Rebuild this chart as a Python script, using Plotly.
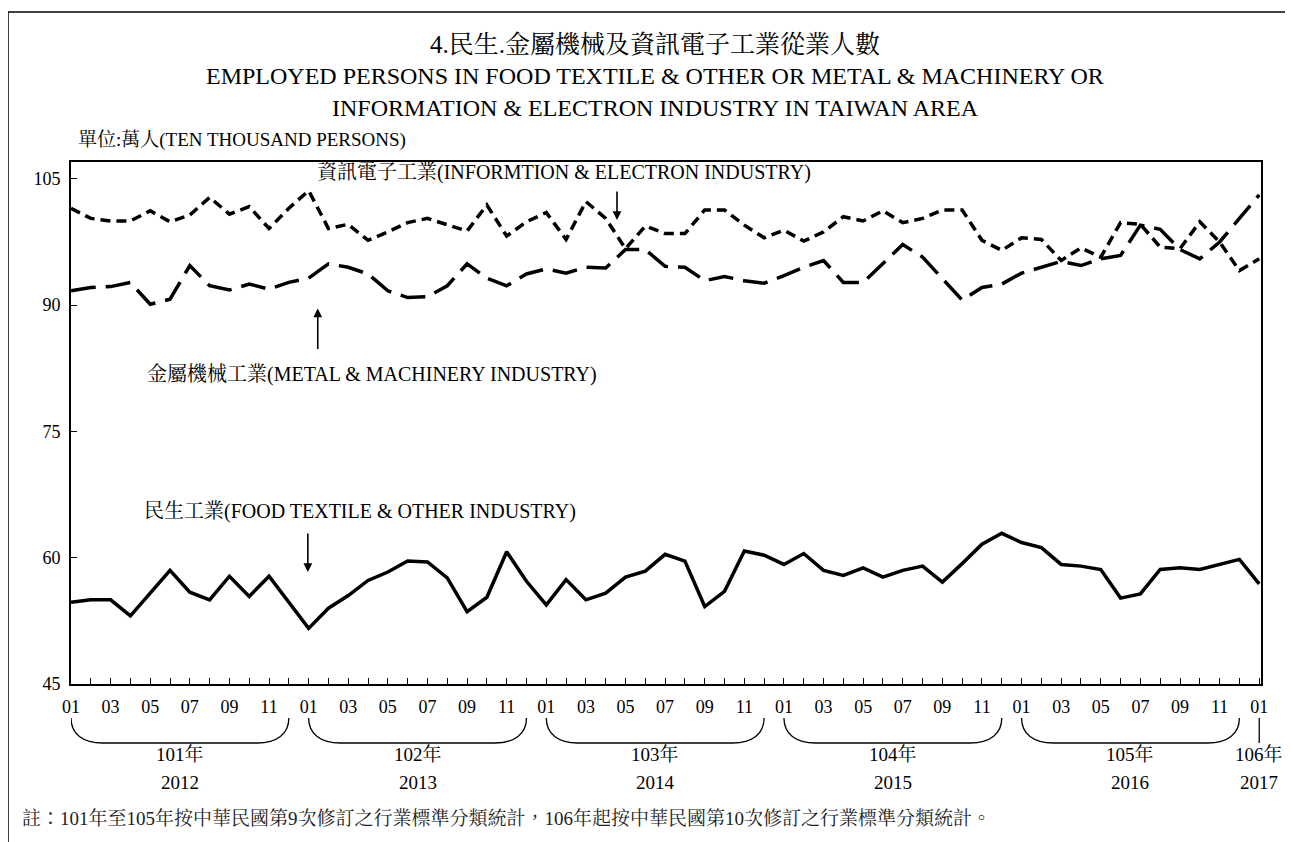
import plotly.graph_objects as go

# ---------------- data ----------------
month_labels = ["01", "02", "03", "04", "05", "06", "07", "08", "09", "10", "11", "12"]
roc_years = ["101年", "102年", "103年", "104年", "105年", "106年"]
ad_years = ["2012", "2013", "2014", "2015", "2016", "2017"]

food = [54.7, 55.0, 55.0, 53.1, 55.8, 58.5, 55.9, 55.0, 57.8, 55.4,
        57.8, 54.7, 51.6, 54.0, 55.5, 57.3, 58.3, 59.6, 59.5, 57.6,
        53.6, 55.3, 60.7, 57.2, 54.4, 57.4, 55.0, 55.8, 57.7, 58.4,
        60.4, 59.6, 54.2, 56.0, 60.8, 60.3, 59.2, 60.5, 58.5, 57.9,
        58.8, 57.7, 58.5, 59.0, 57.1, 59.3, 61.6, 62.9, 61.8, 61.2,
        59.2, 59.0, 58.6, 55.2, 55.7, 58.6, 58.8, 58.6, 59.2, 59.8,
        56.9]
metal = [91.7, 92.1, 92.2, 92.7, 90.1, 90.7, 94.7, 92.3, 91.8, 92.5,
         91.9, 92.7, 93.2, 94.9, 94.5, 93.7, 91.7, 90.9, 91.0, 92.3,
         94.9, 93.2, 92.3, 93.7, 94.3, 93.8, 94.5, 94.4, 96.6, 96.6,
         94.6, 94.5, 92.9, 93.4, 92.9, 92.6, 93.5, 94.5, 95.3, 92.7,
         92.7, 94.9, 97.2, 95.7, 93.1, 90.6, 92.1, 92.5, 93.8, 94.5,
         95.2, 94.7, 95.5, 95.9, 99.5, 99.0, 96.6, 95.5, 97.5, 100.3,
         103.1]
info = [101.5, 100.3, 100.0, 100.0, 101.2, 99.9, 100.7, 102.8, 100.8, 101.7,
        99.1, 101.5, 103.6, 99.1, 99.6, 97.7, 98.7, 99.8, 100.3, 99.6,
        98.8, 101.9, 98.2, 99.9, 101.0, 97.8, 102.3, 100.3, 96.7, 99.4,
        98.5, 98.5, 101.3, 101.3, 99.5, 98.0, 98.9, 97.6, 98.7, 100.5,
        100.0, 101.2, 99.8, 100.3, 101.3, 101.3, 97.7, 96.5, 98.0, 97.8,
        95.3, 96.8, 95.7, 99.8, 99.6, 96.9, 96.7, 99.9, 97.5, 94.1,
        95.5]
y_ticks = [45, 60, 75, 90, 105]

series_names = ["民生工業(FOOD TEXTILE & OTHER INDUSTRY)",
                "金屬機械工業(METAL & MACHINERY INDUSTRY)",
                "資訊電子工業(INFORMTION & ELECTRON INDUSTRY)"]
title_lines = ["4.民生.金屬機械及資訊電子工業從業人數",
               "EMPLOYED PERSONS IN FOOD TEXTILE & OTHER OR METAL & MACHINERY OR",
               "INFORMATION & ELECTRON INDUSTRY IN TAIWAN AREA"]
unit_label = "單位:萬人(TEN THOUSAND PERSONS)"
footnote = "註：101年至105年按中華民國第9次修訂之行業標準分類統計，106年起按中華民國第10次修訂之行業標準分類統計。"

# ---------------- layout geometry ----------------
OFF = 8                      # page body margin
W, H = 1293 - OFF, 842 - OFF
ML, MR, MT, MB = 71 - OFF, 32, 162 - OFF, 158
PLOT_H = H - MT - MB
PLOT_W = W - ML - MR


def py(pix):
    """page pixel row -> paper y"""
    return (H - MB - (pix - OFF)) / PLOT_H


def px(pix):
    """page pixel column -> paper x"""
    return ((pix - OFF) - ML) / PLOT_W


FONT = "Liberation Serif, Noto Serif CJK TC, Noto Sans CJK TC, serif"

n = len(food)
x = list(range(n))
tick_text = [month_labels[i % 12] if (i % 12) % 2 == 0 else "" for i in x]

fig = go.Figure()
fig.add_trace(go.Scatter(x=x, y=food, mode="lines", name=series_names[0],
                         line=dict(color="black", width=3.5)))
fig.add_trace(go.Scatter(x=x, y=metal, mode="lines", name=series_names[1],
                         line=dict(color="black", width=3.5, dash="25px,10px")))
fig.add_trace(go.Scatter(x=x, y=info, mode="lines", name=series_names[2],
                         line=dict(color="black", width=3.5, dash="10px,6px")))

annotations = []
# titles
title_sizes = [25, 24, 24]
for k, t in enumerate(title_lines):
    annotations.append(dict(text=t, xref="paper", yref="paper", x=px(655), y=py(44 + 32 * k),
                            showarrow=False, xanchor="center", yanchor="middle",
                            font=dict(size=title_sizes[k], family=FONT, color="black")))
annotations.append(dict(text=unit_label, xref="paper", yref="paper", x=px(76), y=py(140),
                        showarrow=False, xanchor="left", yanchor="middle",
                        font=dict(size=19, family=FONT, color="black")))
annotations.append(dict(text=footnote, xref="paper", yref="paper", x=px(20), y=py(818),
                        showarrow=False, xanchor="left", yanchor="middle",
                        font=dict(size=19, family=FONT, color="#222")))

# series labels with arrows
label_pos = [(14.6, 65.5), (15.2, 81.8), (24.9, 105.7)]
for name, (lx, ly) in zip(series_names, label_pos):
    annotations.append(dict(text=name, x=lx, y=ly, xref="x", yref="y", showarrow=False,
                            font=dict(size=20, family=FONT, color="black")))
arrows = [(11.96, 58.3, -40), (12.46, 89.6, 42), (27.57, 100.1, -30)]
for ax_, ay_, off in arrows:
    annotations.append(dict(text="", x=ax_, y=ay_, xref="x", yref="y", showarrow=True,
                            ax=0, ay=off, arrowhead=2, arrowsize=1.1, arrowwidth=1.6,
                            arrowcolor="black"))

# year braces and labels
shapes = []
ya, yb, yc = py(718), py(734), py(743)
for k in range(len(roc_years)):
    if k < len(roc_years) - 1:
        x0, x1 = 12 * k, 12 * k + 11
        xc = (x0 + x1) / 2
        path = (f"M {x0},{ya} C {x0},{yb} {x0 + 0.6},{yc} {x0 + 1.6},{yc} "
                f"L {x1 - 1.6},{yc} C {x1 - 0.6},{yc} {x1},{yb} {x1},{ya}")
        shapes.append(dict(type="path", path=path, xref="x", yref="paper",
                           line=dict(color="black", width=1.3)))
    else:
        xc = 12 * k
        shapes.append(dict(type="line", xref="x", yref="paper", x0=xc, x1=xc, y0=ya, y1=yc,
                           line=dict(color="black", width=1.3)))
    annotations.append(dict(text=roc_years[k], x=xc, y=py(754), xref="x", yref="paper",
                            showarrow=False, yanchor="middle",
                            font=dict(size=19, family=FONT, color="black")))
    annotations.append(dict(text=ad_years[k], x=xc, y=py(782), xref="x", yref="paper",
                            showarrow=False, yanchor="middle",
                            font=dict(size=19, family=FONT, color="black")))

# outer border (top & left)
shapes.append(dict(type="line", xref="paper", yref="paper", x0=px(8), x1=px(1293), y0=py(12), y1=py(12),
                   line=dict(color="black", width=1.5)))
shapes.append(dict(type="line", xref="paper", yref="paper", x0=px(8), x1=px(8), y0=py(12), y1=py(842),
                   line=dict(color="black", width=1.5)))

fig.update_layout(
    width=W, height=H,
    margin=dict(l=ML, r=MR, t=MT, b=MB),
    paper_bgcolor="white", plot_bgcolor="white",
    showlegend=False,
    font=dict(family=FONT, size=18, color="black"),
    annotations=annotations,
    shapes=shapes,
)
fig.update_xaxes(range=[0, n - 1 + 0.09], tickvals=x, ticktext=tick_text,
                 ticks="inside", ticklen=6, tickwidth=1, tickcolor="black",
                 showline=True, linecolor="black", linewidth=2, mirror=True,
                 showgrid=False, zeroline=False, ticklabelstandoff=5,
                 tickfont=dict(size=18, family=FONT, color="black"))
fig.update_yaxes(range=[45, 107], tickvals=y_ticks,
                 ticks="inside", ticklen=6, tickwidth=1, tickcolor="black",
                 showline=True, linecolor="black", linewidth=2, mirror=True,
                 showgrid=False, zeroline=False, ticklabelstandoff=5,
                 tickfont=dict(size=18, family=FONT, color="black"))

fig.write_html("out.html")
